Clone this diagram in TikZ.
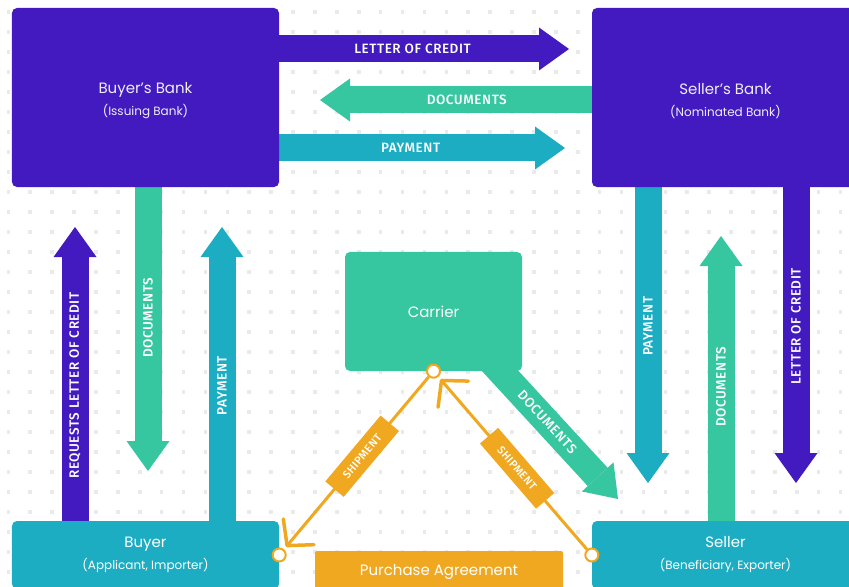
\documentclass[tikz,border=0pt]{standalone}
\usepackage{fontspec}
\setmainfont{Poppins}
\IfFontExistsTF{Fira Sans Medium}
  {\newfontfamily\lblfont{Fira Sans Medium}[LetterSpace=4]}
  {\newfontfamily\lblfont{Fira Sans}[LetterSpace=4,UprightFont=* Bold]}
\usetikzlibrary{arrows.meta,positioning,backgrounds,calc}

\definecolor{lcpurple}{RGB}{67,26,192}
\definecolor{lcgreen}{RGB}{54,198,160}
\definecolor{lcteal}{RGB}{28,173,195}
\definecolor{lcorange}{RGB}{240,168,32}
\definecolor{lcdot}{RGB}{234,234,234}

\newcommand\titletxt{\fontsize{15bp}{18bp}\selectfont}
\newcommand\subtxt{\fontsize{12bp}{14bp}\selectfont}

\tikzset{
  bank/.style={rectangle, rounded corners=5bp, fill=lcpurple, text=white!92!lcpurple,
    minimum width=267bp, minimum height=179bp, align=center, inner sep=0pt,
    font=\titletxt},
  party/.style={bank, fill=lcteal, text=white, minimum height=68bp},
  carrierbox/.style={bank, fill=lcgreen, text=white, minimum width=177bp, minimum height=119bp},
  deal/.style={bank, fill=lcorange, text=white, rounded corners=2bp, minimum width=248bp,
    minimum height=42bp},
  flow/.style={line width=27bp, -{Triangle[length=30bp,width=43bp,line width=0pt]}},
  lbl/.style={text=white, font=\lblfont\fontsize{13.5bp}{15bp}\selectfont, inner sep=0pt},
  ship/.style={draw=lcorange, line width=3bp,
    -{Straight Barb[length=18bp,width=40bp,round,line width=3.5bp]}, shorten >=3bp},
  shiplbl/.style={fill=lcorange, text=white, sloped,
    font=\lblfont\fontsize{11bp}{12bp}\selectfont,
    minimum width=86bp, minimum height=24bp, inner sep=0pt},
  pindot/.style={circle, draw=lcorange, fill=white, line width=2bp,
    minimum size=13bp, inner sep=0pt},
}

\begin{document}
\begin{tikzpicture}[x=1bp, y=-1bp]
\useasboundingbox (0,0) rectangle (849,587);

% parties
\node[bank] (bbank) at (145.5,97.5) {\rule{0pt}{18bp}Buyer’s Bank\\[4bp]{\subtxt (Issuing Bank)}};
\node[bank] (sbank) at (725.5,97.5) {\rule{0pt}{18bp}Seller’s Bank\\[4bp]{\subtxt (Nominated Bank)}};
\node[carrierbox] (carrier) at (433.5,311.5) {Carrier};
\node[party] (buyer) at (145.5,555) {Buyer\\[4bp]{\subtxt (Applicant, Importer)}};
\node[party] (seller) at (725.5,555) {Seller\\[4bp]{\subtxt (Beneficiary, Exporter)}};
\node[deal] (deal) at (439,572) {Purchase Agreement};

% arrow tips
\coordinate (locTip) at (569,49);
\coordinate (docTip) at (320,100);
\coordinate (payTip) at (565,148);
\coordinate (reqTip) at (75,227);
\coordinate (bdocTip) at (148,471);
\coordinate (bpayTip) at (222,227);
\coordinate (spayTip) at (648,483);
\coordinate (sdocTip) at (721,236);
\coordinate (slocTip) at (796,483);
\coordinate (cdocTip) at (618,499);

\begin{scope}[on background layer]
% dotted grid
\foreach \i in {0,...,38}
  \foreach \j in {0,...,28}
    \fill[lcdot] ({6.5+21.9*\i},{10.2+20*\j}) rectangle +(3.6,3.6);

% between the banks
\draw[flow, color=lcpurple] (bbank.east |- locTip) -- node[lbl, pos=.46] {LETTER OF CREDIT} (locTip);
\draw[flow, color=lcgreen] (sbank.west |- docTip) -- node[lbl, pos=.46] {DOCUMENTS} (docTip);
\draw[flow, color=lcteal] (bbank.east |- payTip) -- node[lbl, pos=.46] {PAYMENT} (payTip);

% buyer side
\draw[flow, color=lcpurple] (buyer.north -| reqTip) -- node[lbl, rotate=90, pos=.46] {REQUESTS LETTER OF CREDIT} (reqTip);
\draw[flow, color=lcgreen] (bbank.south -| bdocTip) -- node[lbl, rotate=90, pos=.46] {DOCUMENTS} (bdocTip);
\draw[flow, color=lcteal] (buyer.north -| bpayTip) -- node[lbl, rotate=90, pos=.46] {PAYMENT} (bpayTip);

% seller side
\draw[flow, color=lcteal] (sbank.south -| spayTip) -- node[lbl, rotate=90, pos=.47] {PAYMENT} (spayTip);
\draw[flow, color=lcgreen] (seller.north -| sdocTip) -- node[lbl, rotate=90, pos=.47] {DOCUMENTS} (sdocTip);
\draw[flow, color=lcpurple] (sbank.south -| slocTip) -- node[lbl, rotate=90, pos=.47] {LETTER OF CREDIT} (slocTip);

% carrier to seller
\draw[flow, color=lcgreen] ([xshift=12bp]carrier.center) -- node[lbl, sloped, pos=.59] {DOCUMENTS} (cdocTip);
\end{scope}

% shipment
\node[pindot] (cpin) at (carrier.south) {};
\node[pindot] (bpin) at (buyer.east) {};
\node[pindot] (spin) at (seller.west) {};
\draw[ship] (cpin) -- node[shiplbl, pos=.46] {SHIPMENT} (bpin);
\draw[ship] (spin) -- node[shiplbl, pos=.47] {SHIPMENT} (cpin);
\end{tikzpicture}
\end{document}
